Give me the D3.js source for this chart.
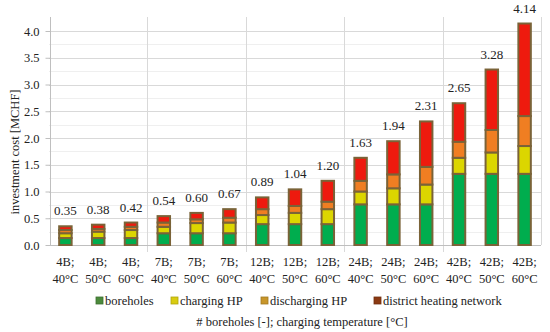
<!DOCTYPE html>
<html>
<head>
<meta charset="utf-8">
<script src="https://cdn.jsdelivr.net/npm/d3@7"></script>
<style>
  body { margin: 0; background: #fff; }
  svg text { font-family: "Liberation Serif", "DejaVu Serif", serif; fill: #222; }
</style>
</head>
<body>
<div id="chart"></div>
<script>
//categories (two-line tick labels)
var boreholeLabels = ["4B;", "4B;", "4B;", "7B;", "7B;", "7B;", "12B;", "12B;", "12B;", "24B;", "24B;", "24B;", "42B;", "42B;", "42B;"];
var tempLabels = ["40°C", "50°C", "60°C", "40°C", "50°C", "60°C", "40°C", "50°C", "60°C", "40°C", "50°C", "60°C", "40°C", "50°C", "60°C"];

//series values [MCHF]
var boreholes    = [0.13, 0.13, 0.13, 0.22, 0.22, 0.22, 0.39, 0.39, 0.39, 0.76, 0.76, 0.76, 1.33, 1.33, 1.33];
var chargingHP   = [0.09, 0.12, 0.15, 0.12, 0.19, 0.20, 0.17, 0.21, 0.28, 0.24, 0.30, 0.37, 0.30, 0.40, 0.52];
var dischargingHP= [0.06, 0.05, 0.06, 0.08, 0.07, 0.09, 0.11, 0.13, 0.14, 0.20, 0.26, 0.33, 0.30, 0.42, 0.56];
var districtNet  = [0.07, 0.08, 0.08, 0.12, 0.12, 0.16, 0.22, 0.31, 0.39, 0.43, 0.62, 0.85, 0.72, 1.13, 1.73];
var totals       = ["0.35", "0.38", "0.42", "0.54", "0.60", "0.67", "0.89", "1.04", "1.20", "1.63", "1.94", "2.31", "2.65", "3.28", "4.14"];

var seriesNames = ["boreholes", "charging HP", "discharging HP", "district heating network"];
var yTicks = [0, 0.5, 1, 1.5, 2, 2.5, 3, 3.5, 4];

//colors
var barFill = ["#00ad4e", "#dcd600", "#f07e22", "#ee1a0e"];
var swatchFill = ["#4c8a3c", "#d9cc10", "#c8962a", "#8b3a12"];
var barStroke = "#7a6338";

var width = 550, height = 332;
var plotLeft = 49, plotRight = 541, plotTop = 17, plotBottom = 245;

//build rows for the stack
var rows = boreholeLabels.map(function(d, i) {
  return {i: i, b: boreholes[i], c: chargingHP[i], d: dischargingHP[i], n: districtNet[i]};
});
var keys = ["b", "c", "d", "n"];
var stacked = d3.stack().keys(keys)(rows);

var x = d3.scaleBand().domain(d3.range(rows.length)).range([plotLeft, plotRight]).paddingInner(0.62).paddingOuter(0.31);
var y = d3.scaleLinear().domain([0, 4]).range([plotBottom, 31]);

var svg = d3.select("#chart").append("svg")
    .attr("width", width)
    .attr("height", height);

//minor gridlines
svg.append("g").selectAll("line")
  .data(d3.range(0.25, 4.01, 0.5))
  .join("line")
    .attr("x1", plotLeft).attr("x2", plotRight)
    .attr("y1", function(d) { return Math.round(y(d)) + 0.5; })
    .attr("y2", function(d) { return Math.round(y(d)) + 0.5; })
    .attr("stroke", "#efefef");

//major gridlines
svg.append("g").selectAll("line")
  .data(yTicks.slice(1))
  .join("line")
    .attr("x1", plotLeft).attr("x2", plotRight)
    .attr("y1", function(d) { return Math.round(y(d)) + 0.5; })
    .attr("y2", function(d) { return Math.round(y(d)) + 0.5; })
    .attr("stroke", "#d9d9d9");

//group separators
var step = x.step();
svg.append("g").selectAll("line")
  .data([3, 6, 9, 12, 15])
  .join("line")
    .attr("x1", function(d) { return Math.round(plotLeft + d * step) + 0.5; })
    .attr("x2", function(d) { return Math.round(plotLeft + d * step) + 0.5; })
    .attr("y1", plotTop)
    .attr("y2", function(d) { return d == 15 ? plotBottom : plotBottom + 7; })
    .attr("stroke", "#d9d9d9");

//y axis
var yAxis = svg.append("g")
    .attr("transform", "translate(" + (plotLeft + 1.5) + ",0)")
    .call(d3.axisLeft(y).tickValues(yTicks).tickFormat(d3.format(".1f")).tickSize(5).tickPadding(6));
yAxis.select(".domain").attr("stroke", "#bfbfbf").attr("d", "M0," + plotTop + "V" + plotBottom);
yAxis.selectAll(".tick line").attr("stroke", "#bfbfbf");
yAxis.selectAll(".tick text").attr("font-size", 12.5).attr("fill", "#222");

//x axis line
svg.append("line")
  .attr("x1", plotLeft - 3).attr("x2", plotRight)
  .attr("y1", plotBottom + 0.5).attr("y2", plotBottom + 0.5)
  .attr("stroke", "#bfbfbf");

//stacked bars
svg.append("g").selectAll("g")
  .data(stacked)
  .join("g")
    .attr("fill", function(d, i) { return barFill[i]; })
  .selectAll("rect")
  .data(function(d) { return d; })
  .join("rect")
    .attr("x", function(d) { return x(d.data.i); })
    .attr("width", x.bandwidth())
    .attr("y", function(d) { return y(d[1]); })
    .attr("height", function(d) { return y(d[0]) - y(d[1]); })
    .attr("stroke", barStroke)
    .attr("stroke-width", 2);

//total labels
svg.append("g").selectAll("text")
  .data(stacked[3])
  .join("text")
    .attr("x", function(d) { return x(d.data.i) + x.bandwidth() / 2; })
    .attr("y", function(d) { return y(d[1]) - 11; })
    .attr("text-anchor", "middle")
    .attr("font-size", 13)
    .text(function(d, i) { return totals[i]; });

//x tick labels
var xl = svg.append("g").selectAll("text")
  .data(rows)
  .join("text")
    .attr("text-anchor", "middle")
    .attr("font-size", 12.5);
xl.append("tspan")
    .attr("x", function(d) { return x(d.i) + x.bandwidth() / 2; })
    .attr("y", 266)
    .text(function(d) { return boreholeLabels[d.i]; });
xl.append("tspan")
    .attr("x", function(d) { return x(d.i) + x.bandwidth() / 2; })
    .attr("y", 283)
    .text(function(d) { return tempLabels[d.i]; });

//legend
var legendX = [96, 171, 261, 374];
var lg = svg.append("g").selectAll("g")
  .data(seriesNames)
  .join("g")
    .attr("transform", function(d, i) { return "translate(" + legendX[i] + ",297)"; });
lg.append("rect")
  .attr("width", 7).attr("height", 7)
  .attr("fill", function(d, i) { return swatchFill[i]; })
  .attr("stroke", function(d, i) { return d3.color(swatchFill[i]).darker(0.6); })
  .attr("stroke-width", 0.8);
lg.append("text")
  .attr("x", 9).attr("y", 7.5)
  .attr("font-size", 12.5)
  .text(function(d) { return d; });

//axis titles
svg.append("text")
  .attr("transform", "translate(19," + ((plotTop + plotBottom) / 2 + 21) + ") rotate(-90)")
  .attr("text-anchor", "middle")
  .attr("font-size", 12.5)
  .text("investment cost [MCHF]");

svg.append("text")
  .attr("x", 302).attr("y", 326)
  .attr("text-anchor", "middle")
  .attr("font-size", 12.5)
  .text("# boreholes [-]; charging temperature [°C]");
</script>
</body>
</html>
